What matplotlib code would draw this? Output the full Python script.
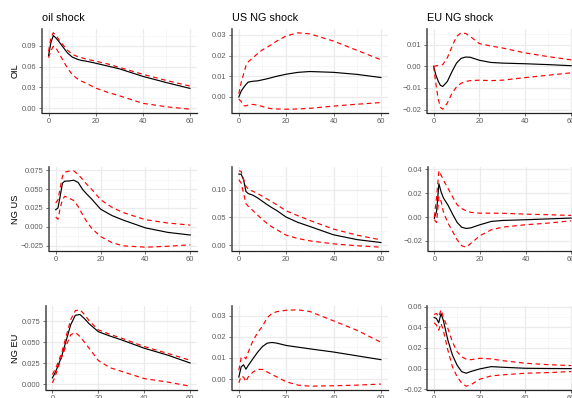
import matplotlib
matplotlib.use("Agg")
import matplotlib.pyplot as plt
from matplotlib.ticker import FixedLocator, MultipleLocator

plt.rcParams['font.family'] = ['Liberation Sans', 'DejaVu Sans']

# impulse responses, horizon 0..60
horizon = [0, 1, 2, 3, 4, 6, 8, 10, 12, 14, 16, 20, 25, 30, 40, 50, 60]

shocks = ["oil shock", "US NG shock", "EU NG shock"]
variables = ["OIL", "NG US", "NG EU"]

# response of OIL
oil_to_oil = [0.076, 0.095, 0.105, 0.102, 0.098, 0.089, 0.080, 0.074, 0.071, 0.069, 0.068, 0.065, 0.061, 0.057, 0.046, 0.037, 0.0286]
oil_to_oil_hi = [0.082, 0.102, 0.109, 0.106, 0.101, 0.092, 0.084, 0.078, 0.075, 0.073, 0.071, 0.068, 0.064, 0.059, 0.049, 0.040, 0.032]
oil_to_oil_lo = [0.073, 0.083, 0.0895, 0.088, 0.082, 0.070, 0.058, 0.049, 0.043, 0.039, 0.036, 0.029, 0.023, 0.018, 0.007, 0.002, -0.0015]

usng_to_oil = [0.0, 0.0028, 0.0045, 0.006, 0.0072, 0.0076, 0.0078, 0.0083, 0.0088, 0.0094, 0.0100, 0.0110, 0.0119, 0.0123, 0.0119, 0.0109, 0.0094]
usng_to_oil_hi = [0.0015, 0.007, 0.011, 0.015, 0.017, 0.019, 0.021, 0.0228, 0.024, 0.0255, 0.027, 0.0295, 0.031, 0.0305, 0.027, 0.0225, 0.018]
usng_to_oil_lo = [-0.001, -0.0022, -0.0042, -0.0043, -0.0039, -0.0036, -0.004, -0.0046, -0.0053, -0.0057, -0.0058, -0.0059, -0.0058, -0.0055, -0.0044, -0.0035, -0.0027]

eung_to_oil = [0.0, -0.004, -0.0068, -0.0088, -0.0093, -0.007, -0.0025, 0.0015, 0.0037, 0.0043, 0.0042, 0.0028, 0.0018, 0.0015, 0.0012, 0.0008, 0.0003]
eung_to_oil_hi = [0.0, 0.0002, 0.0004, 0.0005, 0.0008, 0.004, 0.009, 0.0138, 0.0155, 0.0152, 0.0138, 0.0105, 0.0094, 0.0085, 0.0062, 0.0045, 0.003]
eung_to_oil_lo = [0.0, -0.008, -0.015, -0.019, -0.0198, -0.017, -0.0125, -0.0095, -0.0078, -0.007, -0.0066, -0.0064, -0.0066, -0.0064, -0.0052, -0.0041, -0.003]

# response of NG US
oil_to_ngus = [0.0228, 0.025, 0.041, 0.058, 0.0607, 0.061, 0.062, 0.059, 0.0496, 0.043, 0.037, 0.0235, 0.015, 0.009, -0.0015, -0.0075, -0.011]
oil_to_ngus_hi = [0.0317, 0.036, 0.052, 0.067, 0.0728, 0.074, 0.0745, 0.0696, 0.063, 0.056, 0.050, 0.036, 0.026, 0.019, 0.0094, 0.005, 0.0022]
oil_to_ngus_lo = [0.013, 0.010, 0.025, 0.036, 0.0406, 0.038, 0.035, 0.027, 0.016, 0.006, -0.002, -0.013, -0.021, -0.0254, -0.0272, -0.026, -0.024]

usng_to_ngus = [0.128, 0.128, 0.118, 0.097, 0.093, 0.090, 0.085, 0.079, 0.073, 0.0675, 0.0625, 0.0506, 0.041, 0.0337, 0.0187, 0.010, 0.0048]
usng_to_ngus_hi = [0.134, 0.133, 0.119, 0.106, 0.101, 0.097, 0.093, 0.088, 0.083, 0.078, 0.073, 0.062, 0.053, 0.0446, 0.029, 0.018, 0.0096]
usng_to_ngus_lo = [0.118, 0.112, 0.094, 0.075, 0.070, 0.062, 0.054, 0.046, 0.039, 0.033, 0.028, 0.018, 0.012, 0.0078, 0.0024, -0.001, -0.0036]

eung_to_ngus = [-0.001, 0.005, 0.028, 0.021, 0.016, 0.010, 0.0025, -0.0045, -0.0085, -0.0095, -0.009, -0.0064, -0.0036, -0.0028, -0.0022, -0.0015, -0.0008]
eung_to_ngus_hi = [0.0, 0.017, 0.0388, 0.035, 0.031, 0.024, 0.017, 0.0103, 0.0072, 0.0052, 0.0040, 0.0033, 0.0033, 0.0032, 0.0025, 0.002, 0.0014]
eung_to_ngus_lo = [-0.0022, -0.0045, 0.017, 0.013, 0.004, -0.005, -0.012, -0.019, -0.024, -0.0252, -0.022, -0.0156, -0.0106, -0.0084, -0.0064, -0.005, -0.0031]

# response of NG EU
oil_to_ngeu = [0.0078, 0.013, 0.019, 0.026, 0.033, 0.052, 0.071, 0.082, 0.083, 0.078, 0.072, 0.0626, 0.0575, 0.053, 0.043, 0.035, 0.0255]
oil_to_ngeu_hi = [0.0118, 0.017, 0.023, 0.030, 0.037, 0.057, 0.077, 0.0875, 0.0885, 0.083, 0.0755, 0.0648, 0.0595, 0.055, 0.045, 0.037, 0.0287]
oil_to_ngeu_lo = [0.002, 0.008, 0.016, 0.024, 0.032, 0.046, 0.059, 0.0616, 0.057, 0.050, 0.043, 0.0285, 0.020, 0.0157, 0.007, 0.003, -0.002]

usng_to_ngeu = [0.001, 0.0058, 0.0068, 0.0047, 0.0065, 0.0097, 0.0128, 0.0154, 0.017, 0.0173, 0.017, 0.0159, 0.0151, 0.0143, 0.0128, 0.011, 0.0092]
usng_to_ngeu_hi = [0.0042, 0.0101, 0.0107, 0.0096, 0.0128, 0.0182, 0.022, 0.025, 0.029, 0.031, 0.0318, 0.0325, 0.0327, 0.0319, 0.0275, 0.023, 0.0174]
usng_to_ngeu_lo = [-0.0017, 0.0014, 0.001, -0.0012, 0.0011, 0.0034, 0.0046, 0.0046, 0.0034, 0.0022, 0.0011, -0.0012, -0.0028, -0.0033, -0.0031, -0.0028, -0.0023]

eung_to_ngeu = [0.0497, 0.0487, 0.0445, 0.0535, 0.047, 0.0277, 0.0132, 0.0035, -0.0029, -0.0045, -0.0029, -0.0003, 0.0019, 0.0013, 0.0003, 0.0001, 0.0]
eung_to_ngeu_hi = [0.0526, 0.0535, 0.0503, 0.0571, 0.0503, 0.039, 0.026, 0.0165, 0.0115, 0.0092, 0.0086, 0.010, 0.0094, 0.0077, 0.0052, 0.0038, 0.0029]
eung_to_ngeu_lo = [0.0445, 0.0423, 0.0374, 0.0439, 0.0374, 0.018, 0.0019, -0.0077, -0.0138, -0.0171, -0.0158, -0.0103, -0.0071, -0.0061, -0.0045, -0.0039, -0.0029]

# y ticks of each panel (row by row) and decimals in their labels
yticks = [
    [[0.0, 0.03, 0.06, 0.09], [0.0, 0.01, 0.02, 0.03], [-0.02, -0.01, 0.0, 0.01]],
    [[-0.025, 0.0, 0.025, 0.05, 0.075], [0.0, 0.05, 0.10], [-0.02, 0.0, 0.02, 0.04]],
    [[0.0, 0.025, 0.05, 0.075], [0.0, 0.01, 0.02, 0.03], [-0.02, 0.0, 0.02, 0.04, 0.06]],
]
ydecimals = [[2, 2, 2], [3, 2, 2], [3, 2, 2]]
xticks = [0, 20, 40, 60]

panels = [
    [(oil_to_oil, oil_to_oil_hi, oil_to_oil_lo), (usng_to_oil, usng_to_oil_hi, usng_to_oil_lo), (eung_to_oil, eung_to_oil_hi, eung_to_oil_lo)],
    [(oil_to_ngus, oil_to_ngus_hi, oil_to_ngus_lo), (usng_to_ngus, usng_to_ngus_hi, usng_to_ngus_lo), (eung_to_ngus, eung_to_ngus_hi, eung_to_ngus_lo)],
    [(oil_to_ngeu, oil_to_ngeu_hi, oil_to_ngeu_lo), (usng_to_ngeu, usng_to_ngeu_hi, usng_to_ngeu_lo), (eung_to_ngeu, eung_to_ngeu_hi, eung_to_ngeu_lo)],
]

# layout in pixels (the grid runs a bit past the right and bottom edges)
W, H = 572, 398
lefts = [[41.5, 231.7, 426.7], [49.0, 231.7, 427.5], [45.5, 231.7, 427.3]]
rights = [197, 388, 578]
rows = [(29, 113), (167, 251), (306, 390)]

fig = plt.figure(figsize=(W / 100, H / 100), dpi=100)

for i in range(3):
    top, bottom = rows[i]
    for j in range(3):
        left = lefts[i][j]
        ax = fig.add_axes([left / W, 1 - bottom / H, (rights[j] - left) / W, (bottom - top) / H])
        mid, hi, lo = panels[i][j]
        ax.plot(horizon, mid, color='black', lw=0.85, zorder=3)
        ax.plot(horizon, hi, color='#FF0000', lw=0.85, dashes=(4, 3), zorder=4)
        ax.plot(horizon, lo, color='#FF0000', lw=0.85, dashes=(4, 3), zorder=4)
        ax.margins(x=0.05, y=0.05)

        ax.xaxis.set_major_locator(FixedLocator(xticks))
        ax.xaxis.set_minor_locator(MultipleLocator(10))
        ax.yaxis.set_major_locator(FixedLocator(yticks[i][j]))
        step = yticks[i][j][1] - yticks[i][j][0]
        ax.yaxis.set_minor_locator(MultipleLocator(step / 2))
        d = ydecimals[i][j]
        ax.set_yticklabels([f"{v:.{d}f}".replace('-', '\u2212') for v in yticks[i][j]])

        ax.grid(which='major', color='#EBEBEB', lw=0.9, zorder=0)
        ax.grid(which='minor', color='#F4F4F4', lw=0.5, zorder=0)
        ax.set_axisbelow(True)
        ax.tick_params(which='major', labelsize=5.4, labelcolor='#5a5a5a', length=2.2, width=0.5, color='#333333', pad=1.5)
        ax.tick_params(which='minor', length=0)
        for s in ['top', 'right']:
            ax.spines[s].set_visible(False)
        ax.spines['left'].set_color('#555555')
        ax.spines['left'].set_linewidth(1.2)
        ax.spines['bottom'].set_color('#222222')
        ax.spines['bottom'].set_linewidth(0.9)

        if i == 0:
            ax.set_title(shocks[j], loc='left', fontsize=7.8, pad=5.5, color='black')

    fig.text(15 / W, 1 - (top + bottom) / 2 / H, variables[i], rotation=90,
             ha='center', va='center', fontsize=6.7)

fig.savefig('out.png', dpi=100)
